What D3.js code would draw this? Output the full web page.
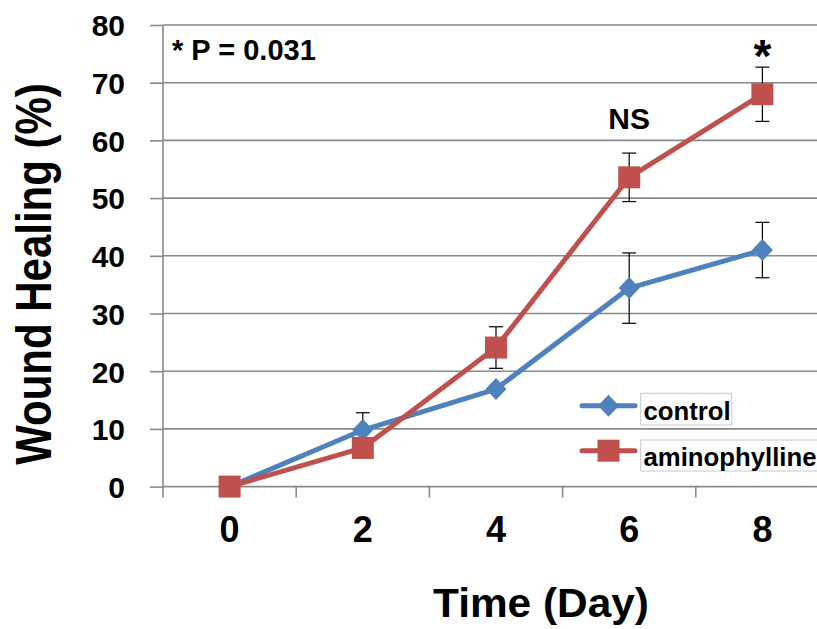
<!DOCTYPE html>
<html>
<head>
<meta charset="utf-8">
<script src="https://cdn.jsdelivr.net/npm/d3@7"></script>
<style>
  html, body { margin: 0; padding: 0; background: #fff; }
  svg { display: block; font-family: "Liberation Sans", Arial, sans-serif; font-weight: bold; }
</style>
</head>
<body>
<svg id="chart" width="817" height="629"></svg>
<script>
const days = ["0", "2", "4", "6", "8"];
const controlValues = [0, 9.8, 16.9, 34.4, 41.0];
const controlErrors = [0, 3.0, 0, 6.1, 4.8];
const aminoValues = [0, 6.7, 24.1, 53.6, 68.0];
const aminoErrors = [0, 0, 3.6, 4.2, 4.7];
const yTicks = [0, 10, 20, 30, 40, 50, 60, 70, 80];
const seriesNames = ["control", "aminophylline"];

(function () {
const svg = d3.select("#chart");
const plotLeft = 163, plotRight = 829, plotTop = 25, plotBottom = 486.6;
const x = d3.scaleBand().domain(days).range([plotLeft, plotRight]).padding(0);
const y = d3.scaleLinear().domain([0, 80]).range([plotBottom, plotTop]);
const cx = d => x(d) + x.bandwidth() / 2;

const gridColor = "#898989";

// gridlines
svg.append("g").selectAll("line").data(yTicks).join("line")
  .attr("x1", plotLeft).attr("x2", 817)
  .attr("y1", d => y(d)).attr("y2", d => y(d))
  .attr("stroke", gridColor).attr("stroke-width", 1.6);

// y axis
const yAxis = svg.append("g").attr("transform", `translate(${plotLeft},0)`)
  .call(d3.axisLeft(y).tickValues(yTicks).tickSize(13).tickPadding(25).tickFormat(d3.format("d")));
yAxis.select(".domain").remove();
yAxis.selectAll(".tick line").attr("stroke", gridColor).attr("stroke-width", 1.6);
yAxis.selectAll(".tick text").attr("font-size", 30).attr("font-family", "Liberation Sans, Arial, sans-serif")
  .attr("font-weight", "bold").attr("fill", "#000").attr("dy", "0.36em");
svg.append("line").attr("x1", plotLeft).attr("x2", plotLeft).attr("y1", plotTop).attr("y2", plotBottom + 11)
  .attr("stroke", gridColor).attr("stroke-width", 1.6);

// x axis ticks at band edges
svg.append("g").selectAll("line").data(days.slice(1)).join("line")
  .attr("x1", d => x(d)).attr("x2", d => x(d))
  .attr("y1", plotBottom).attr("y2", plotBottom + 11)
  .attr("stroke", gridColor).attr("stroke-width", 1.6);
svg.append("g").selectAll("text").data(days).join("text")
  .attr("x", d => cx(d)).attr("y", 541.5)
  .attr("text-anchor", "middle").attr("font-size", 36).attr("fill", "#000")
  .text(d => d);

// axis titles
svg.append("text").attr("transform", "translate(541,616.7) scale(1.06,1)")
  .attr("text-anchor", "middle").attr("font-size", 40).attr("fill", "#000").text("Time (Day)");
svg.append("text").attr("transform", "translate(51,274) rotate(-90) scale(1,1.17)")
  .attr("text-anchor", "middle").attr("font-size", 42).attr("fill", "#000").text("Wound Healing (%)");

const series = [
  { name: seriesNames[0], values: controlValues, errors: controlErrors, color: "#4F81BD", marker: "diamond" },
  { name: seriesNames[1], values: aminoValues, errors: aminoErrors, color: "#C0504D", marker: "square" }
];

const line = d3.line().x((d, i) => cx(days[i])).y(d => y(d));

function drawMarker(g, type, px, py, color) {
  if (type === "diamond") {
    g.append("path")
      .attr("d", `M${px},${py - 11}L${px + 10.5},${py}L${px},${py + 11}L${px - 10.5},${py}Z`)
      .attr("fill", color);
  } else {
    g.append("rect").attr("x", px - 11).attr("y", py - 11).attr("width", 22).attr("height", 22)
      .attr("fill", color);
  }
}

series.forEach(s => {
  const g = svg.append("g");
  s.values.forEach((v, i) => {
    const e = s.errors[i];
    if (!e) return;
    const px = cx(days[i]);
    g.append("line").attr("x1", px).attr("x2", px).attr("y1", y(v - e)).attr("y2", y(v + e))
      .attr("stroke", "#000").attr("stroke-width", 1.2);
    [v - e, v + e].forEach(t => {
      g.append("line").attr("x1", px - 7).attr("x2", px + 7).attr("y1", y(t)).attr("y2", y(t))
        .attr("stroke", "#000").attr("stroke-width", 1.2);
    });
  });
  g.append("path").datum(s.values).attr("d", line)
    .attr("fill", "none").attr("stroke", s.color).attr("stroke-width", 5).attr("stroke-linejoin", "round");
  s.values.forEach((v, i) => drawMarker(g, s.marker, cx(days[i]), y(v), s.color));
});

// annotations
svg.append("text").attr("x", 172).attr("y", 60).attr("font-size", 29).attr("fill", "#000").text("* P = 0.031");
svg.append("text").attr("x", cx("6")).attr("y", 129.3).attr("text-anchor", "middle")
  .attr("font-size", 30).attr("fill", "#000").text("NS");
svg.append("text").attr("x", cx("8")).attr("y", 72).attr("text-anchor", "middle")
  .attr("font-size", 46).attr("fill", "#000").text("*");

// legend
const legendRows = [
  { s: series[0], ly: 405.7, box: [640.7, 393.3, 91, 31.7], ty: 419.5 },
  { s: series[1], ly: 450.7, box: [640.7, 440, 200, 31], ty: 465.5 }
];
legendRows.forEach(r => {
  const g = svg.append("g");
  g.append("line").attr("x1", 582).attr("x2", 635).attr("y1", r.ly).attr("y2", r.ly)
    .attr("stroke", r.s.color).attr("stroke-width", 5).attr("stroke-linecap", "round");
  drawMarker(g, r.s.marker, 608.5, r.ly, r.s.color);
  g.append("rect").attr("x", r.box[0]).attr("y", r.box[1]).attr("width", r.box[2]).attr("height", r.box[3])
    .attr("fill", "#fff").attr("stroke", "#c8c8c8").attr("stroke-width", 1);
  g.append("text").attr("transform", `translate(643.5,${r.ty}) scale(1.03,1.04)`)
    .attr("font-size", 25).attr("fill", "#000").text(r.s.name);
});
})();
</script>
</body>
</html>
